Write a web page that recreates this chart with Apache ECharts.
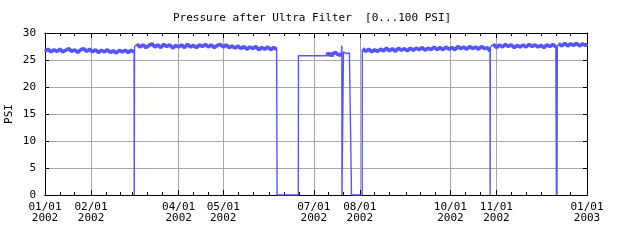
<!DOCTYPE html>
<html>
<head>
<meta charset="utf-8">
<script src="https://cdn.jsdelivr.net/npm/echarts@6/dist/echarts.min.js"></script>
<style>html,body{margin:0;padding:0;background:#fff}#c{width:640px;height:240px}</style>
</head>
<body>
<div id="c"></div>
<script>
// ---- data (x = day of year 2002, 0 = 01/01/2002; y = PSI) ----
var titleText = 'Pressure after Ultra Filter  [0...100 PSI]';
var yName = 'PSI';
// month start days (day index) for 2002 plus 01/01/2003
var monthStarts = [0, 31, 59, 90, 120, 151, 181, 212, 243, 273, 304, 334, 365];
var tickDays = [0, 31, 90, 120, 181, 212, 273, 304, 365];
var tickLabels = ['01/01\n2002', '02/01\n2002', '04/01\n2002', '05/01\n2002', '07/01\n2002', '08/01\n2002', '10/01\n2002', '11/01\n2002', '01/01\n2003'];
var yTicks = [0, 5, 10, 15, 20, 25, 30];

var segJanFeb = [[0,26.6],[2,27.0],[4,26.5],[6,26.9],[8,26.6],[10,27.0],[12,26.5],[14,26.8],[16,27.1],[18,26.6],[20,26.9],[22,26.4],[24,26.9],[26,27.1],[28,26.6],[30,27.0],[32,26.5],[34,26.9],[36,26.4],[38,26.8],[40,26.5],[42,26.9],[44,26.4],[46,26.7],[48,26.3],[50,26.8],[52,26.5],[54,26.8],[56,26.4],[58,26.8],[60,26.5]];
var outageMar = [[60.1,0],[60.3,27.5]];
var segMarMay = [[62,27.9],[64,27.4],[66,27.8],[68,27.3],[70,27.7],[72,28.0],[74,27.4],[76,27.8],[78,27.3],[80,27.9],[82,27.5],[84,27.8],[86,27.2],[88,27.7],[90,27.4],[92,27.8],[94,27.3],[96,27.9],[98,27.4],[100,27.7],[102,27.3],[104,27.8],[106,27.5],[108,27.9],[110,27.4],[112,27.8],[114,27.3],[116,27.7],[118,27.9],[120,27.4],[122,27.8],[124,27.3],[126,27.6],[128,27.2],[130,27.6],[132,27.1],[134,27.5],[136,27.0],[138,27.4],[140,27.1],[142,27.5],[144,26.9],[146,27.3],[148,27.0],[150,27.4],[152,26.9],[154,27.3],[156,27.0]];
var outageJun = [[156.3,0],[170.6,0],[170.7,25.8],[189.2,25.8]];
var segJul = [[190,26.4],[191,25.8],[192,26.3],[193,25.7],[194,26.2],[195,25.9],[196,26.4],[197,26.0],[198,26.3],[199,25.9],[199.6,26.3],[199.9,27.7],[200.0,0],[200.9,0],[201.0,26.5],[202,26.6],[203,26.2],[204,26.5],[205,26.3],[206,26.5],[206.3,26.4]];
var outageJulAug = [[206.4,0],[213.6,0],[213.7,26.8]];
var segAugOct = [[214,27.1],[216,26.6],[218,27.0],[220,26.5],[222,26.9],[224,26.6],[226,27.0],[228,26.7],[230,27.2],[232,26.7],[234,27.1],[236,26.6],[238,27.2],[240,26.8],[242,27.1],[244,26.7],[246,27.2],[248,26.8],[250,27.2],[252,26.9],[254,27.3],[256,26.8],[258,27.2],[260,26.9],[262,27.4],[264,26.9],[266,27.3],[268,26.9],[270,27.4],[272,27.0],[274,27.3],[276,26.9],[278,27.5],[280,27.1],[282,27.4],[284,27.0],[286,27.5],[288,27.1],[290,27.4],[292,27.0],[294,27.5],[296,27.1],[298,27.3],[299.7,26.6]];
var outageOct = [[299.8,0],[299.9,27.4]];
var segNovDec = [[302,27.9],[304,27.3],[306,27.8],[308,27.4],[310,27.9],[312,27.5],[314,27.8],[316,27.3],[318,27.7],[320,27.4],[322,27.8],[324,27.4],[326,27.9],[328,27.5],[330,27.8],[332,27.4],[334,27.7],[336,27.3],[338,27.8],[340,27.5],[342,27.9],[344,27.4]];
var outageDec = [[344.4,0],[344.6,27.6],[344.8,0],[345.0,27.5]];
var segDecEnd = [[346,28.0],[348,27.6],[350,28.1],[352,27.6],[354,28.0],[356,27.7],[358,28.1],[360,27.6],[362,28.0],[364,27.7],[365,28.0]];

// ---- build ----
var seriesData = [].concat(segJanFeb, outageMar, segMarMay, outageJun, segJul, outageJulAug, segAugOct, outageOct, segNovDec, outageDec, segDecEnd);
var bandData = [].concat(segJanFeb, [null], segMarMay, [null], segJul.slice(0, 11), [null], segAugOct, [null], segNovDec, [null], segDecEnd);
var dayCats = [];
for (var d = 0; d <= 365; d++) dayCats.push(String(d));
var minorDays = [];
for (var m = 0; m < monthStarts.length - 1; m++) {
  minorDays.push(monthStarts[m], monthStarts[m] + 10, monthStarts[m] + 20);
}
minorDays.push(365);
function isMajor(i) { return tickDays.indexOf(i) >= 0; }
function isMinor(i) { return minorDays.indexOf(i) >= 0; }
var FONT = 'DejaVu Sans Mono';
var BLACK = '#000';
var GRIDC = '#a8a8a8';

function catAxis(pos, major, withLabels) {
  return {
    type: 'category', data: dayCats, position: pos, boundaryGap: false,
    axisLine: { show: true, lineStyle: { color: BLACK, width: 1 } },
    axisTick: { show: true, inside: true, length: major ? 5 : 3, alignWithLabel: true,
      interval: function (i) { return major ? isMajor(i) : isMinor(i); },
      lineStyle: { color: BLACK, width: 1 } },
    axisLabel: { show: withLabels, interval: function (i) { return isMajor(i); },
      formatter: function (v, i) { var k = tickDays.indexOf(Number(v)); return k >= 0 ? tickLabels[k] : ''; },
      fontFamily: FONT, fontSize: 11, color: BLACK, lineHeight: 11, margin: 7 },
    splitLine: { show: major && pos === 'bottom', interval: function (i) { return isMajor(i) && i !== 0 && i !== 365; },
      lineStyle: { color: GRIDC, width: 1 } }
  };
}

var chart = echarts.init(document.getElementById('c'), null, { renderer: 'canvas' });
chart.setOption({
  animation: false,
  backgroundColor: '#fff',
  title: { text: titleText, left: 168, top: 8,
    textStyle: { fontFamily: FONT, fontSize: 11, fontWeight: 'normal', color: BLACK } },
  grid: { left: 45, right: 53, top: 33, bottom: 45, containLabel: false, outerBoundsMode: 'none' },
  xAxis: [
    { type: 'value', min: 0, max: 365, show: false },
    catAxis('bottom', true, true),
    catAxis('bottom', false, false),
    catAxis('top', true, false),
    catAxis('top', false, false)
  ],
  yAxis: [
    { type: 'value', min: 0, max: 30, interval: 5, position: 'left',
      name: yName, nameLocation: 'middle', nameGap: 30, nameMoveOverlap: false,
      nameTextStyle: { fontFamily: FONT, fontSize: 11, color: BLACK },
      axisLine: { show: true, lineStyle: { color: BLACK, width: 1 } },
      axisTick: { show: true, inside: true, length: 4, lineStyle: { color: BLACK } },
      axisLabel: { fontFamily: FONT, fontSize: 11, color: BLACK, margin: 9,
        formatter: function (v) { return yTicks.indexOf(v) >= 0 ? String(v) : ''; } },
      splitLine: { show: true, lineStyle: { color: GRIDC, width: 1 } } },
    { type: 'value', min: 0, max: 30, interval: 5, position: 'right',
      axisLine: { show: true, lineStyle: { color: BLACK, width: 1 } },
      axisTick: { show: true, inside: true, length: 4, lineStyle: { color: BLACK } },
      axisLabel: { show: false }, splitLine: { show: false } }
  ],
  series: [
    { type: 'line', xAxisIndex: 0, yAxisIndex: 0, data: seriesData,
      showSymbol: false, symbol: 'none',
      lineStyle: { color: '#5555ff', width: 1.4 }, z: 3 },
    { type: 'line', xAxisIndex: 0, yAxisIndex: 0, data: bandData,
      showSymbol: false, symbol: 'none', connectNulls: false, silent: true,
      lineStyle: { color: '#5555ff', width: 3.6 }, z: 3 }
  ]
});
</script>
</body>
</html>
